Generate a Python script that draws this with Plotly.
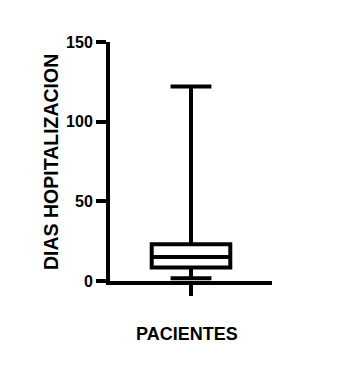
import plotly.graph_objects as go

category = ["PACIENTES"]
y_title = "DIAS HOPITALIZACION"
q1 = [8.5]
median = [15]
q3 = [23]
lower = [1.7]
upper = [122]
y_ticks = [0, 50, 100, 150]

fig = go.Figure()
fig.add_trace(go.Box(
    x=[0], q1=q1, median=median, q3=q3, lowerfence=lower, upperfence=upper,
    boxpoints=False, width=0.97, whiskerwidth=0.52,
    fillcolor="white", line=dict(color="black", width=4),
    showlegend=False, hoverinfo="skip",
))

font = "Liberation Sans, Arial, sans-serif"
fig.update_layout(
    width=354, height=379,
    margin=dict(l=110, r=82, t=42, b=98),
    plot_bgcolor="white", paper_bgcolor="white",
    font=dict(family=font, color="black"),
    xaxis=dict(range=[-1, 1], showline=True, linecolor="black", linewidth=4,
               showgrid=False, zeroline=False, tickvals=[0], ticktext=[""],
               ticks="outside", ticklen=11, tickwidth=4, tickcolor="black"),
    yaxis=dict(range=[0, 150], showline=True, linecolor="black", linewidth=4,
               showgrid=False, zeroline=False, tickvals=y_ticks,
               ticktext=["<b>%d</b>" % v for v in y_ticks],
               ticks="outside", ticklen=10, tickwidth=4, tickcolor="black",
               tickfont=dict(size=16)),
    annotations=[
        dict(text="<b>" + y_title + "</b>", xref="paper", yref="paper",
             x=-0.364, y=0.498, xanchor="center", yanchor="middle",
             textangle=-90, showarrow=False, font=dict(size=19.5)),
        dict(text="<b>" + category[0] + "</b>", xref="paper", yref="paper",
             x=0.475, y=-0.222, xanchor="center", yanchor="middle",
             showarrow=False, font=dict(size=18)),
    ],
)
fig.write_html("out.html")
